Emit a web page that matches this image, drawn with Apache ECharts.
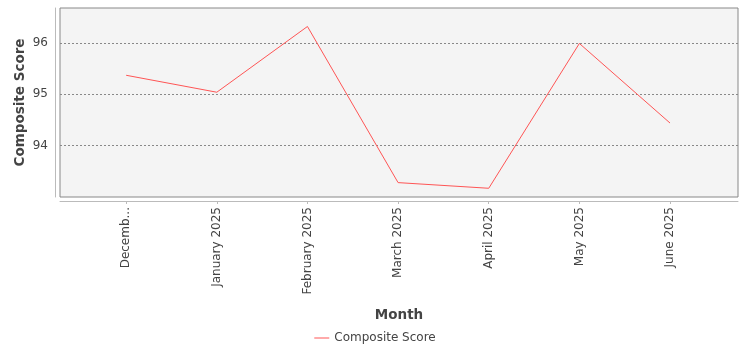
<!DOCTYPE html>
<html>
<head>
<meta charset="utf-8">
<script src="https://cdn.jsdelivr.net/npm/echarts@6/dist/echarts.min.js"></script>
<style>
  html, body { margin: 0; padding: 0; background: #fff; }
  #chart { width: 750px; height: 350px; }
</style>
</head>
<body>
<div id="chart"></div>
<script>
    var months = ['December 2024', 'January 2025', 'February 2025', 'March 2025', 'April 2025', 'May 2025', 'June 2025'];
    var tickLabels = ['Decemb...', 'January 2025', 'February 2025', 'March 2025', 'April 2025', 'May 2025', 'June 2025'];
    var scores = [95.37, 95.04, 96.32, 93.28, 93.17, 95.99, 94.44];

    var idx = months.map(function (m, i) { return i; });
    var points = scores.map(function (v, i) { return [i, v]; });

    var myChart = echarts.init(document.getElementById('chart'));
    var font = 'DejaVu Sans';

    myChart.setOption({
        animation: false,
        textStyle: { fontFamily: font },
        grid: {
            left: 60, top: 8, right: 12, bottom: 153,
            show: true,
            backgroundColor: '#f4f4f4',
            borderColor: '#888888',
            borderWidth: 1
        },
        legend: {
            bottom: 1,
            left: 'center',
            icon: 'path://M0,0 L15,0 L15,1 L0,1 Z',
            itemWidth: 15,
            itemHeight: 1,
            itemGap: 10,
            textStyle: { color: '#444', fontSize: 12, fontFamily: font },
            data: ['Composite Score']
        },
        xAxis: {
            type: 'value',
            min: -0.73,
            max: 6.75,
            offset: 4,
            name: 'Month',
            nameLocation: 'middle',
            nameGap: 107,
            nameMoveOverlap: false,
            nameTextStyle: { color: '#444', fontSize: 13.5, fontWeight: 'bold', fontFamily: font },
            axisLine: { show: true, onZero: false, lineStyle: { color: '#bbbbbb' } },
            axisTick: { show: true, customValues: idx, length: 3, lineStyle: { color: '#bbbbbb' } },
            axisLabel: {
                customValues: idx,
                rotate: 90,
                margin: 6,
                color: '#444',
                fontSize: 12,
                fontFamily: font,
                formatter: function (v) { return tickLabels[Math.round(v)]; }
            },
            splitLine: { show: false }
        },
        yAxis: {
            type: 'value',
            min: 93,
            max: 96.68,
            interval: 1,
            offset: 5,
            name: 'Composite Score',
            nameLocation: 'middle',
            nameGap: 28,
            nameMoveOverlap: false,
            nameTextStyle: { color: '#444', fontSize: 13.5, fontWeight: 'bold', fontFamily: font },
            axisLine: { show: true, onZero: false, lineStyle: { color: '#bbbbbb' } },
            axisTick: { show: false },
            axisLabel: {
                showMinLabel: false,
                showMaxLabel: false,
                margin: 7,
                color: '#444',
                fontSize: 12,
                fontFamily: font
            },
            splitLine: {
                show: true,
                showMinLine: false,
                showMaxLine: false,
                lineStyle: { color: '#888888', type: [2, 2], width: 1 }
            }
        },
        series: [
            {
                name: 'Composite Score',
                type: 'line',
                data: points,
                symbol: 'none',
                color: '#ff5555',
                lineStyle: { width: 1, color: '#ff5555' }
            }
        ]
    });
</script>
</body>
</html>
